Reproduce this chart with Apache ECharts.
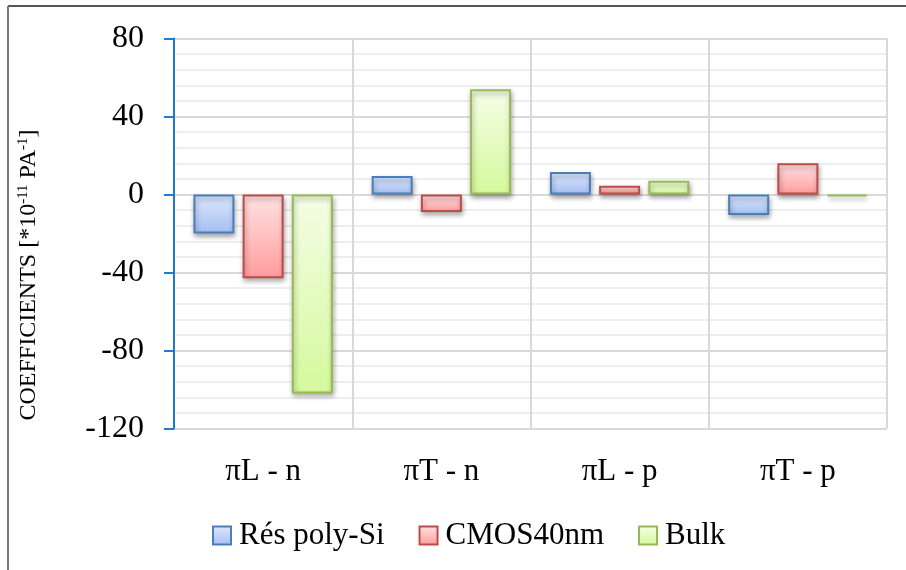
<!DOCTYPE html>
<html>
<head>
<meta charset="utf-8">
<script src="https://cdn.jsdelivr.net/npm/echarts@6/dist/echarts.min.js"></script>
<style>
  html, body { margin: 0; padding: 0; background: #ffffff; }
  #chart { width: 906px; height: 570px; }
</style>
</head>
<body>
<div id="chart"></div>
<script>
// Piezoresistive coefficients per configuration
const categories = ['πL - n', 'πT - n', 'πL - p', 'πT - p'];
const polySi = [-20, 9.5, 11.5, -10.5];
const cmos40 = [-43, -9, 4.5, 16];
const bulk = [-102, 54, 7, -1];
const seriesNames = ['Rés poly-Si', 'CMOS40nm', 'Bulk'];
const yTicks = { min: -120, max: 80, interval: 40 };

const FONT = '"Liberation Serif", serif';

function grad(top, bottom) {
  return new echarts.graphic.LinearGradient(0, 0, 0, 1, [
    { offset: 0, color: top },
    { offset: 1, color: bottom }
  ]);
}

const styles = [
  { fill: grad('#dde8fc', '#a5bff2'), border: '#4a7ebb' },
  { fill: grad('#ffe2e2', '#ff9c9c'), border: '#be4b48' },
  { fill: grad('#f4fde6', '#d5f99c'), border: '#98b954' }
];

function barSeries(name, data, st) {
  return {
    name: name,
    type: 'bar',
    data: data,
    barWidth: 41,
    barGap: '20%',
    itemStyle: {
      color: st.fill,
      borderColor: st.border,
      borderWidth: 2,
      shadowColor: 'rgba(0,0,0,0.35)',
      shadowBlur: 5,
      shadowOffsetX: 1,
      shadowOffsetY: 3
    },
    emphasis: { disabled: true }
  };
}

const chart = echarts.init(document.getElementById('chart'), null, { renderer: 'canvas' });

chart.setOption({
  animation: false,
  backgroundColor: '#ffffff',
  textStyle: { fontFamily: FONT, fontWeight: 'normal', color: '#000' },
  grid: { left: 174, right: 19, top: 38.5, bottom: 141.5, containLabel: false },
  legend: {
    left: 207,
    top: 515,
    itemWidth: 18,
    itemHeight: 18,
    itemGap: 34,
    icon: 'rect',
    data: seriesNames,
    textStyle: {
      fontFamily: FONT,
      fontSize: 31,
      fontWeight: 'normal',
      color: '#000',
      padding: [0, 0, 0, 3]
    }
  },
  xAxis: {
    type: 'category',
    data: categories,
    axisLine: { show: false, onZero: false },
    axisTick: { show: false },
    splitLine: { show: true, lineStyle: { color: '#d9d9d9', width: 2 } },
    axisLabel: { fontFamily: FONT, fontSize: 31, color: '#000', margin: 28 }
  },
  yAxis: {
    type: 'value',
    min: yTicks.min,
    max: yTicks.max,
    interval: yTicks.interval,
    axisLine: { show: true, lineStyle: { color: '#1f7ad0', width: 2 } },
    axisTick: { show: true, inside: false, length: 10, lineStyle: { color: '#1f7ad0', width: 2 } },
    axisLabel: { fontFamily: FONT, fontSize: 32, color: '#000', margin: 30 },
    splitLine: { show: true, lineStyle: { color: '#d9d9d9', width: 2 } },
    minorTick: { show: false, splitNumber: 5 },
    minorSplitLine: { show: true, lineStyle: { color: '#eeeeee', width: 2 } }
  },
  graphic: [
    { type: 'line', shape: { x1: 8, y1: 6, x2: 906, y2: 6 }, style: { stroke: '#555', lineWidth: 2 }, silent: true },
    { type: 'line', shape: { x1: 8, y1: 6, x2: 8, y2: 570 }, style: { stroke: '#777', lineWidth: 2 }, silent: true },
    {
      type: 'text',
      x: 29,
      y: 275,
      rotation: Math.PI / 2,
      silent: true,
      style: {
        text: '{t|COEFFICIENTS [*10}{s|-11}{t| PA}{s|-1}{t|]}',
        align: 'center',
        verticalAlign: 'middle',
        fill: '#000',
        rich: {
          t: { fontFamily: FONT, fontSize: 24, lineHeight: 26, fill: '#000' },
          s: { fontFamily: FONT, fontSize: 15, lineHeight: 26, verticalAlign: 'top', padding: [0, 0, 9, 0], fill: '#000' }
        }
      }
    }
  ],
  series: [
    barSeries(seriesNames[0], polySi, styles[0]),
    barSeries(seriesNames[1], cmos40, styles[1]),
    barSeries(seriesNames[2], bulk, styles[2])
  ]
});
</script>
</body>
</html>
